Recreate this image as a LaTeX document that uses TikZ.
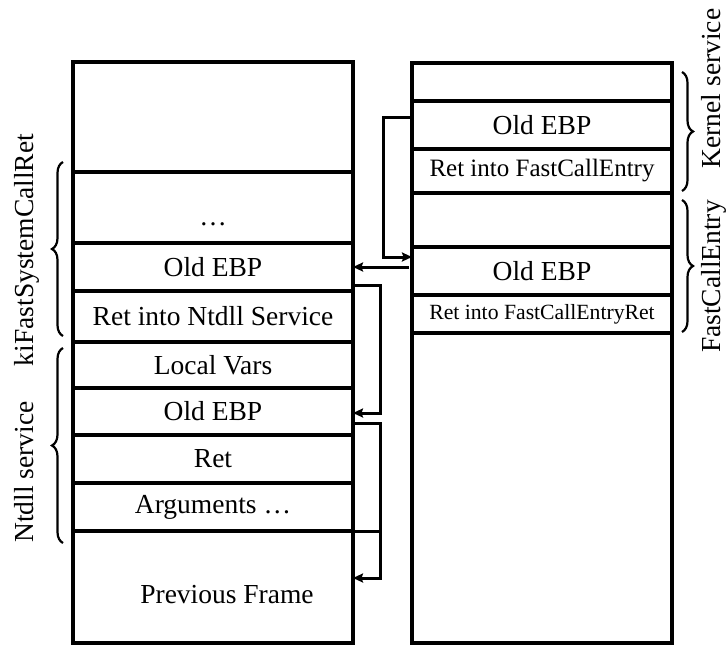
\documentclass[tikz,border=0pt]{standalone}
\usepackage{fontspec}
\setmainfont{Liberation Serif}
\usetikzlibrary{arrows.meta,decorations.pathreplacing}
\begin{document}
\begin{tikzpicture}[x=1pt,y=-1pt,
  cellbase/.style={draw, line width=3.2pt, inner sep=0pt, outer sep=0pt, font=\fontsize{27.5}{30}\selectfont},
  lcell/.style={cellbase, minimum width=280pt},
  rcell/.style={cellbase, minimum width=260pt},
  conn/.style={line width=3pt, -{Stealth[length=10pt,width=9pt,inset=1.5pt]}},
  brc/.style={decorate, decoration={brace, amplitude=11pt}, line width=2.2pt},
  lab/.style={font=\fontsize{27.5}{30}\selectfont, inner sep=0pt, rotate=90}]
\useasboundingbox (0,0) rectangle (727,645);
% left stack
\node[lcell, minimum height=110pt] (L1) at (213,117) {};
\node[lcell, minimum height=71pt, text height=35pt, text depth=0pt] (L2) at (213,207.5) {…};
\node[lcell, minimum height=48pt] (L3) at (213,267) {Old EBP};
\node[lcell, minimum height=51pt] (L4) at (213,316.5) {Ret into Ntdll Service};
\node[lcell, minimum height=46pt] (L5) at (213,365) {Local Vars};
\node[lcell, minimum height=47pt] (L6) at (213,411.5) {Old EBP};
\node[lcell, minimum height=48pt] (L7) at (213,459) {Ret};
\node[lcell, minimum height=48pt] (L8) at (213,507) {Arguments …};
\node[lcell, minimum height=112pt, text height=32pt, text depth=0pt] (L9) at (213,587) {\hspace*{28pt}Previous Frame};
% right stack
\node[rcell, minimum height=38pt] (R1) at (542,82) {};
\node[rcell, minimum height=48pt] (R2) at (542,125) {Old EBP};
\node[rcell, minimum height=44pt, font=\fontsize{25}{28}\selectfont] (R3) at (542,171) {Ret into FastCallEntry};
\node[rcell, minimum height=54pt] (R4) at (542,220) {};
\node[rcell, minimum height=48pt] (R5) at (542,271) {Old EBP};
\node[rcell, minimum height=38pt, font=\fontsize{21.7}{24}\selectfont] (R6) at (542,314) {Ret into FastCallEntryRet};
\node[rcell, minimum height=310pt] (R7) at (542,488) {};
% connectors
\draw[conn] ([yshift=8pt]R2.west) -- ++(-29,0) |- ([yshift=14pt]R5.west);
\draw[conn] (L3.east -| R5.west) ++(-3,0) -- (L3.east);
\draw[conn] ([yshift=-18pt]L3.east) -- ++(27,0) |- ([yshift=-1.5pt]L6.east);
\draw[conn] ([yshift=-11.5pt]L6.east) -- ++(27,0) |- ([yshift=9pt]L9.east);
\draw[line width=3pt] (L8.south east) -- ++(27,0);
% braces
\draw[brc] (63,336) -- (63,162);
\draw[brc] (63,543) -- (63,348);
\draw[brc] (682,72) -- (682,191);
\draw[brc] (682,200) -- (682,332);
% labels
\node[lab] (kfs) at (27,250) {kiFastSystemCallRet};
\node[lab] (nts) at (23.6,472) {Ntdll service};
\node[lab] (kns) at (710.6,88.5) {Kernel service};
\node[lab] (fce) at (713.6,276.5) {FastCallEntry};
\end{tikzpicture}
\end{document}
